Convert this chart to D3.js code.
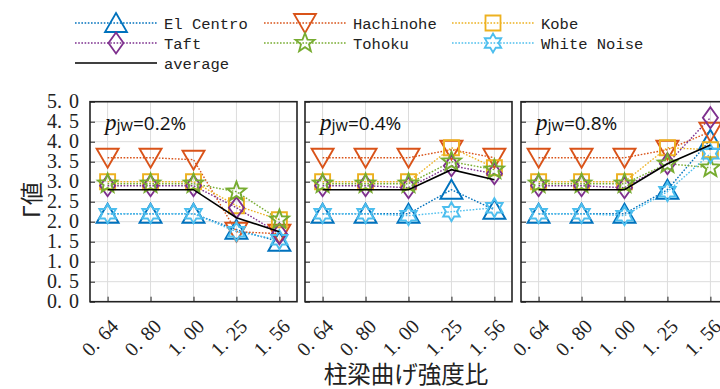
<!DOCTYPE html>
<html><head><meta charset="utf-8">
<script src="https://cdn.jsdelivr.net/npm/d3@7"></script>
<style>body{margin:0;background:#fff}svg{display:block}</style>
</head><body><svg id="c" width="720" height="389"></svg>
<script>
// ---- data ----
const categories = ["0.64", "0.80", "1.00", "1.25", "1.56"];
const panelLabels = ["0.2%", "0.4%", "0.8%"];
const yTickValues = [0, 0.5, 1, 1.5, 2, 2.5, 3, 3.5, 4, 4.5, 5];
const seriesNames = ["El Centro", "Hachinohe", "Kobe", "Taft", "Tohoku", "White Noise"];
// values per panel (pjw = 0.2%, 0.4%, 0.8%)
const elCentro   = [[2.2, 2.2, 2.2, 1.8, 1.5],  [2.2, 2.2, 2.2, 2.8, 2.3],   [2.2, 2.2, 2.2, 2.8, 4.05]];
const hachinohe  = [[3.6, 3.6, 3.55, 1.75, 1.7],[3.6, 3.6, 3.6, 3.8, 3.6],   [3.6, 3.6, 3.6, 3.8, 4.25]];
const kobe       = [[3.0, 3.0, 3.0, 2.4, 2.05], [3.0, 3.0, 3.0, 3.85, 3.35], [3.0, 3.0, 3.0, 3.85, 3.8]];
const taft       = [[2.9, 2.9, 2.9, 2.35, 1.7], [2.9, 2.9, 2.85, 3.4, 3.2],  [2.9, 2.9, 2.85, 3.45, 4.6]];
const tohoku     = [[2.95, 2.95, 2.95, 2.75, 2.05],[2.95, 2.95, 2.95, 3.5, 3.3],[2.95, 2.95, 2.95, 3.45, 3.35]];
const whiteNoise = [[2.2, 2.2, 2.2, 1.75, 1.55],[2.2, 2.2, 2.15, 2.25, 2.35],[2.2, 2.2, 2.15, 2.75, 3.7]];
const average    = [[2.8, 2.8, 2.8, 2.1, 1.75], [2.8, 2.8, 2.8, 3.3, 3.05],  [2.8, 2.8, 2.8, 3.45, 3.92]];

const seriesValues = [elCentro, hachinohe, kobe, taft, tohoku, whiteNoise];
const colors = ["#0072BD", "#D95319", "#EDB120", "#7E2F8E", "#77AC30", "#4DBEEE"];
const markers = ["tri", "tridown", "square", "diamond", "star", "hexagram"];

// ---- marker paths ----
function markerPath(type) {
  const p = d3.path();
  if (type === "tri") { p.moveTo(0,-10); p.lineTo(11,9); p.lineTo(-11,9); p.closePath(); }
  else if (type === "tridown") { p.moveTo(0,10); p.lineTo(11,-9); p.lineTo(-11,-9); p.closePath(); }
  else if (type === "square") { p.rect(-7.5,-7.5,15,15); }
  else if (type === "diamond") { p.moveTo(0,-10.5); p.lineTo(7.5,0); p.lineTo(0,10.5); p.lineTo(-7.5,0); p.closePath(); }
  else if (type === "star" || type === "hexagram") {
    const n = type === "star" ? 5 : 6, R = type === "star" ? 10 : 9.5, r = type === "star" ? 4.2 : 9.5/Math.sqrt(3);
    for (let i = 0; i < 2*n; i++) {
      const a = -Math.PI/2 + i*Math.PI/n, rr = i%2===0 ? R : r;
      const px = rr*Math.cos(a), py = rr*Math.sin(a);
      if (i===0) p.moveTo(px,py); else p.lineTo(px,py);
    }
    p.closePath();
  }
  return p.toString();
}

// split "0.64" into "0." and "64" parts drawn with a gap
function splitLabel(sel, gap) {
  sel.each(function(d) {
    const s = typeof d === "number" ? d3.format(".1f")(d) : d;
    const k = s.indexOf(".") + 1;
    const t = d3.select(this);
    t.append("tspan").text(s.slice(0, k));
    t.append("tspan").attr("dx", gap).text(s.slice(k));
  });
}

const svg = d3.select("#c");
const panelLeft = [90, 305, 521], panelW = 207, plotTop = 101.7, plotBottom = 301.7;
const y = d3.scaleLinear().domain([0,5]).range([plotBottom, plotTop]);
const serif = "'Liberation Serif','DejaVu Serif',serif";

panelLeft.forEach((L, pi) => {
  const x = d3.scalePoint().domain(categories).range([L, L+panelW]).padding(0.41);
  const g = svg.append("g");
  // grid
  g.selectAll(".hg").data(yTickValues.slice(1,-1)).join("line")
    .attr("x1", L).attr("x2", L+panelW).attr("y1", d=>y(d)).attr("y2", d=>y(d))
    .attr("stroke", "#dcdcdc").attr("stroke-width", 1);
  g.selectAll(".vg").data(categories).join("line")
    .attr("x1", d=>x(d)).attr("x2", d=>x(d)).attr("y1", plotTop).attr("y2", plotBottom)
    .attr("stroke", "#dcdcdc").attr("stroke-width", 1);
  // axes (ticks inward)
  const ax = g.append("g").attr("transform", `translate(${L},0)`)
    .call(d3.axisLeft(y).tickValues(yTickValues).tickSize(-5).tickFormat(""));
  ax.select(".domain").remove();
  ax.selectAll("line").attr("stroke", "#222");
  const bx = g.append("g").attr("transform", `translate(0,${plotBottom})`)
    .call(d3.axisBottom(x).tickSize(-5).tickFormat(""));
  bx.select(".domain").remove();
  bx.selectAll("line").attr("stroke", "#222");
  // x tick labels
  g.selectAll(".xl").data(categories).join("text")
    .attr("transform", d=>`translate(${x(d)+12},${plotBottom+26}) rotate(-45)`)
    .attr("text-anchor", "end").attr("font-family", serif).attr("font-size", 20).attr("fill", "#222")
    .call(splitLabel, 7);
  // series
  seriesValues.forEach((sv, si) => {
    const vals = sv[pi];
    const line = d3.line().x((d,i)=>x(categories[i])).y(d=>y(d));
    g.append("path").datum(vals).attr("d", line).attr("fill", "none")
      .attr("stroke", colors[si]).attr("stroke-width", 1.4).attr("stroke-dasharray", "1.6,1.6");
  });
  seriesValues.forEach((sv, si) => {
    g.selectAll(null).data(sv[pi]).join("path")
      .attr("d", markerPath(markers[si]))
      .attr("transform", (d,i)=>`translate(${x(categories[i])},${y(d)})`)
      .attr("fill", "none").attr("stroke", colors[si]).attr("stroke-width", 1.9);
  });
  g.append("path").datum(average[pi])
    .attr("d", d3.line().x((d,i)=>x(categories[i])).y(d=>y(d)))
    .attr("fill", "none").attr("stroke", "#000").attr("stroke-width", 1.6);
  // frame
  g.append("rect").attr("x", L).attr("y", plotTop).attr("width", panelW).attr("height", plotBottom-plotTop)
    .attr("fill", "none").attr("stroke", "#222").attr("stroke-width", 1.6);
  // panel label
  const t = g.append("text").attr("x", L+15).attr("y", plotTop+28).attr("font-size", 19).attr("fill", "#111");
  t.append("tspan").attr("font-family", serif).attr("font-style", "italic").attr("font-size", 23).text("p");
  t.append("tspan").attr("font-family", "'Open Sans','Liberation Sans',sans-serif").attr("font-size", 16).attr("dy", 1).text("jw");
  t.append("tspan").attr("font-family", "'Open Sans','Liberation Sans',sans-serif").attr("dy", -1).text("=" + panelLabels[pi]);
});

// y tick labels
svg.selectAll(".yl").data(yTickValues).join("text")
  .attr("x", 79).attr("y", d=>y(d)+6.5).attr("text-anchor", "end")
  .attr("font-family", serif).attr("font-size", 20).attr("fill", "#222")
  .call(splitLabel, 7);

// axis titles
svg.append("text").attr("transform", "translate(40,200) rotate(-90)").attr("text-anchor", "middle")
  .attr("font-family", "'Noto Sans CJK JP',sans-serif").attr("font-size", 23).attr("fill", "#222")
  .text("Γ値");
svg.append("text").attr("x", 406).attr("y", 383).attr("text-anchor", "middle")
  .attr("font-family", "'Noto Sans CJK JP',sans-serif").attr("font-size", 23.5).attr("fill", "#222")
  .text("柱梁曲げ強度比");

// legend
const legItems = seriesNames.map((n,i)=>({name:n, color:colors[i], marker:markers[i]}));
const colX = [75, 264, 452], rowY = [23, 43];
const lg = svg.append("g");
legItems.forEach((it, i) => {
  const cx = colX[i%3], cy = rowY[Math.floor(i/3)];
  lg.append("line").attr("x1", cx).attr("x2", cx+82).attr("y1", cy).attr("y2", cy)
    .attr("stroke", it.color).attr("stroke-width", 1.4).attr("stroke-dasharray", "1.6,1.6");
  lg.append("path").attr("d", markerPath(it.marker)).attr("transform", `translate(${cx+41},${cy})`)
    .attr("fill", "none").attr("stroke", it.color).attr("stroke-width", 1.8);
  lg.append("text").attr("x", cx+89).attr("y", cy+5.5).attr("font-family", "'Liberation Mono',monospace")
    .attr("font-size", 15.5).attr("fill", "#222").text(it.name);
});
lg.append("line").attr("x1", 75).attr("x2", 157).attr("y1", 63).attr("y2", 63).attr("stroke", "#000").attr("stroke-width", 1.6);
lg.append("text").attr("x", 164).attr("y", 68.5).attr("font-family", "'Liberation Mono',monospace")
  .attr("font-size", 15.5).attr("fill", "#222").text("average");
</script></body></html>
